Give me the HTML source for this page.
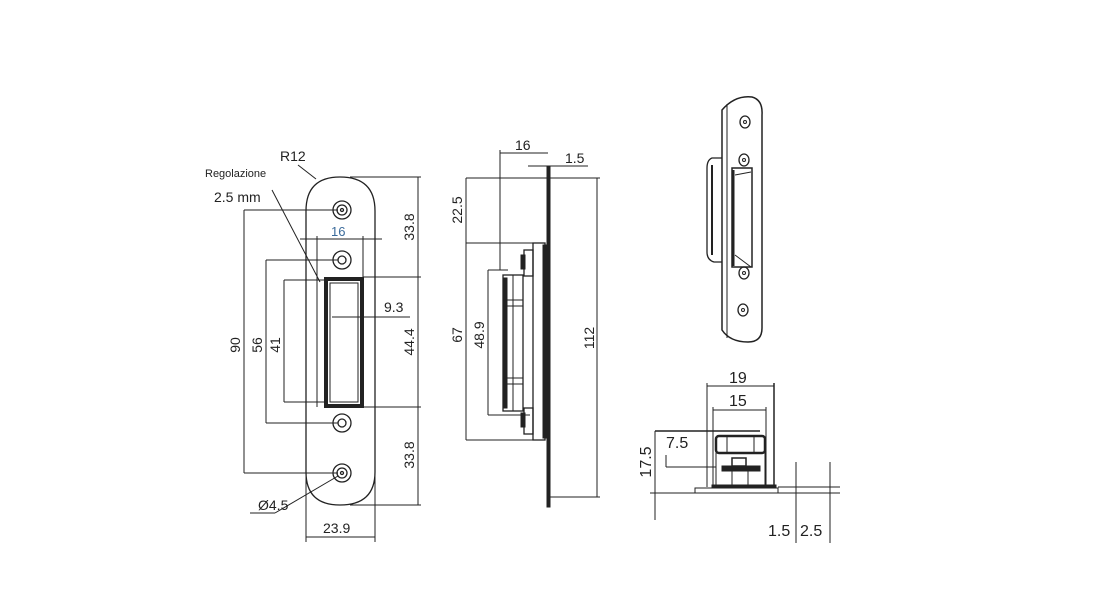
<!DOCTYPE html>
<html><head><meta charset="utf-8"><style>
html,body{margin:0;padding:0;background:#fff;}
svg{display:block;font-family:"Liberation Sans",sans-serif;}
</style></head><body>
<svg width="1099" height="600" viewBox="0 0 1099 600" xmlns="http://www.w3.org/2000/svg">
<rect width="1099" height="600" fill="#fff"/>
<g stroke="#222" fill="none" stroke-width="1">
<!-- FRONT VIEW -->
<path d="M306 211 Q306 177 340 177 Q375 177 375 211 L375 472 Q375 505 340 505 Q306 505 306 472 Z" stroke-width="1.3"/>
<g stroke-width="1.3">
<circle cx="342" cy="210" r="9"/><circle cx="342" cy="210" r="5"/><circle cx="342" cy="210" r="1.5"/>
<circle cx="342" cy="260" r="9"/><circle cx="342" cy="260" r="4"/>
<circle cx="342" cy="423" r="9"/><circle cx="342" cy="423" r="4"/>
<circle cx="342" cy="473" r="9"/><circle cx="342" cy="473" r="5"/><circle cx="342" cy="473" r="1.5"/>
</g>
<rect x="326" y="279" width="36" height="127" stroke-width="4"/>
<rect x="330" y="283" width="28" height="119"/>
<line x1="317" y1="283" x2="317" y2="407"/>
<!-- right dims -->
<line x1="418" y1="177" x2="418" y2="505"/>
<line x1="350" y1="177" x2="421" y2="177"/>
<line x1="363" y1="277" x2="421" y2="277"/>
<line x1="363" y1="407" x2="421" y2="407"/>
<line x1="350" y1="505" x2="421" y2="505"/>
<!-- 16 -->
<line x1="300" y1="239" x2="382" y2="239"/>
<line x1="317" y1="236" x2="317" y2="283"/>
<line x1="363" y1="236" x2="363" y2="277"/>
<!-- 9.3 -->
<line x1="332" y1="317" x2="410" y2="317"/>
<!-- left dims -->
<line x1="244" y1="210" x2="244" y2="473"/>
<line x1="244" y1="210" x2="338" y2="210"/>
<line x1="244" y1="473" x2="338" y2="473"/>
<line x1="266" y1="260" x2="266" y2="423"/>
<line x1="266" y1="260" x2="338" y2="260"/>
<line x1="266" y1="423" x2="338" y2="423"/>
<line x1="284" y1="280" x2="284" y2="402"/>
<line x1="284" y1="280" x2="330" y2="280"/>
<line x1="284" y1="402" x2="326" y2="402"/>
<!-- leaders -->
<line x1="298" y1="165" x2="316" y2="179"/>
<line x1="272" y1="190" x2="320" y2="282"/>
<line x1="250" y1="513" x2="275" y2="513"/>
<line x1="275" y1="513" x2="338" y2="476"/>
<!-- 23.9 -->
<line x1="306" y1="472" x2="306" y2="542"/>
<line x1="375" y1="472" x2="375" y2="542"/>
<line x1="306" y1="537" x2="375" y2="537"/>

<!-- SIDE VIEW -->
<rect x="547" y="166" width="3" height="341" fill="#222"/>
<line x1="550" y1="178" x2="600" y2="178"/>
<line x1="550" y1="497" x2="600" y2="497"/>
<line x1="597" y1="178" x2="597" y2="497"/>
<line x1="528" y1="166" x2="588" y2="166"/>
<line x1="500" y1="153" x2="548" y2="153"/>
<line x1="500" y1="150" x2="500" y2="270"/>
<line x1="466" y1="178" x2="547" y2="178"/>
<line x1="466" y1="178" x2="466" y2="440"/>
<line x1="466" y1="243" x2="545" y2="243"/>
<line x1="466" y1="440" x2="545" y2="440"/>
<line x1="488" y1="270" x2="488" y2="415"/>
<line x1="488" y1="270" x2="508" y2="270"/>
<line x1="488" y1="415" x2="530" y2="415"/>
<rect x="533" y="243" width="12" height="197" stroke-width="1.3"/>
<rect x="543" y="245" width="3" height="193" fill="#222"/>
<rect x="524" y="250" width="9" height="26" stroke-width="1.3"/>
<rect x="521" y="255" width="4" height="14" fill="#222"/>
<rect x="524" y="408" width="9" height="26" stroke-width="1.3"/>
<rect x="521" y="413" width="4" height="14" fill="#222"/>
<rect x="503" y="275" width="20" height="136" stroke-width="1.3"/>
<rect x="503" y="278" width="4" height="130" fill="#222"/>
<line x1="513" y1="275" x2="513" y2="411"/>
<line x1="507" y1="300" x2="523" y2="300"/><line x1="507" y1="306" x2="523" y2="306"/>
<line x1="507" y1="378" x2="523" y2="378"/><line x1="507" y1="384" x2="523" y2="384"/>

<!-- PERSPECTIVE -->
<path d="M722 110 Q735 95 752 97 Q763 100 762 115 L762 328 Q762 342 748 342 Q730 342 722 330 Z" stroke-width="1.5"/>
<line x1="727" y1="104" x2="727" y2="338"/>
<path d="M722 158 L712 158 Q707 160 707 168 L707 252 Q707 260 714 262 L722 262" stroke-width="1.3"/>
<line x1="712" y1="165" x2="712" y2="255" stroke-width="2"/>
<rect x="732" y="168" width="20" height="99" stroke-width="1.5"/>
<line x1="733" y1="170" x2="733" y2="266" stroke-width="3"/>
<line x1="735" y1="175" x2="751" y2="172"/>
<line x1="735" y1="255" x2="751" y2="267"/>
<ellipse cx="745" cy="122" rx="5" ry="6" stroke-width="1.3"/><circle cx="745" cy="122" r="1.5"/>
<ellipse cx="744" cy="160" rx="5" ry="6" stroke-width="1.3"/><circle cx="744" cy="160" r="1.5"/>
<ellipse cx="744" cy="273" rx="5" ry="6" stroke-width="1.3"/><circle cx="744" cy="273" r="1.5"/>
<ellipse cx="743" cy="310" rx="5" ry="6" stroke-width="1.3"/><circle cx="743" cy="310" r="1.5"/>

<!-- BOTTOM VIEW -->
<line x1="707" y1="386" x2="774" y2="386"/>
<line x1="707" y1="383" x2="707" y2="487"/>
<line x1="774" y1="383" x2="774" y2="487" stroke-width="1.5"/>
<line x1="713" y1="410" x2="766" y2="410"/>
<line x1="713" y1="407" x2="713" y2="487"/>
<line x1="766" y1="407" x2="766" y2="487"/>
<line x1="655" y1="431" x2="760" y2="431" stroke-width="1.5"/>
<rect x="716" y="436" width="49" height="17" rx="3" stroke-width="2.5"/>
<line x1="727" y1="436" x2="727" y2="453"/><line x1="754" y1="436" x2="754" y2="453"/>
<rect x="716" y="453" width="49" height="33"/>
<rect x="722" y="466" width="38" height="5" fill="#222"/>
<rect x="732" y="458" width="14" height="8" stroke-width="1.5"/>
<line x1="732" y1="471" x2="732" y2="486"/><line x1="748" y1="471" x2="748" y2="486"/>
<rect x="712" y="485" width="64" height="3" fill="#222"/>
<rect x="695" y="488" width="83" height="5"/>
<line x1="650" y1="493" x2="840" y2="493"/>
<line x1="778" y1="487" x2="840" y2="487"/>
<line x1="655" y1="431" x2="655" y2="520"/>
<line x1="666" y1="455" x2="666" y2="467"/>
<line x1="666" y1="467" x2="716" y2="467"/>
<line x1="796" y1="462" x2="796" y2="543"/>
<line x1="830" y1="462" x2="830" y2="543"/>
</g>
<g fill="#222" font-size="14">
<text x="280" y="161" font-size="14">R12</text>
<text x="205" y="177" font-size="11">Regolazione</text>
<text x="214" y="202" font-size="14">2.5 mm</text>
<text x="331" y="236" font-size="13" fill="#3a6a9a">16</text>
<text x="384" y="312">9.3</text>
<text x="258" y="510">Ø4.5</text>
<text x="323" y="533">23.9</text>
<text transform="translate(414,227) rotate(-90)" text-anchor="middle">33.8</text>
<text transform="translate(414,342) rotate(-90)" text-anchor="middle">44.4</text>
<text transform="translate(414,455) rotate(-90)" text-anchor="middle">33.8</text>
<text transform="translate(240,345) rotate(-90)" text-anchor="middle">90</text>
<text transform="translate(262,345) rotate(-90)" text-anchor="middle">56</text>
<text transform="translate(280,345) rotate(-90)" text-anchor="middle">41</text>
<text x="515" y="150">16</text>
<text x="565" y="163">1.5</text>
<text transform="translate(462,210) rotate(-90)" text-anchor="middle">22.5</text>
<text transform="translate(462,335) rotate(-90)" text-anchor="middle">67</text>
<text transform="translate(484,335) rotate(-90)" text-anchor="middle">48.9</text>
<text transform="translate(594,338) rotate(-90)" text-anchor="middle">112</text>
<text x="729" y="383" font-size="16">19</text>
<text x="729" y="406" font-size="16">15</text>
<text x="666" y="448" font-size="16">7.5</text>
<text transform="translate(651,462) rotate(-90)" text-anchor="middle" font-size="16">17.5</text>
<text x="768" y="536" font-size="16">1.5</text>
<text x="800" y="536" font-size="16">2.5</text>
</g>
</svg>
</body></html>
